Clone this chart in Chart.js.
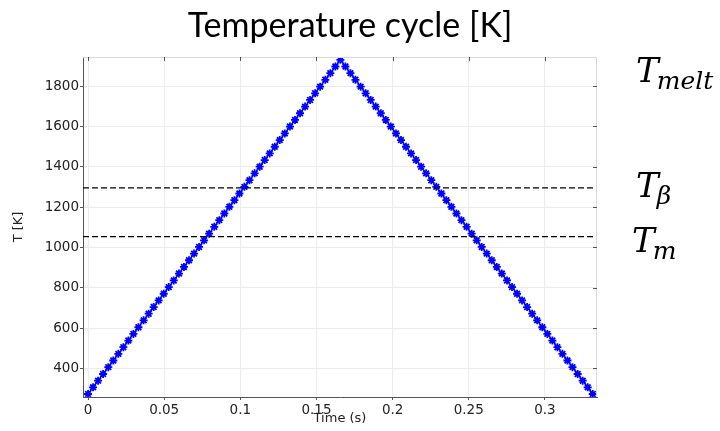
<!DOCTYPE html>
<html lang="en">
<head>
<meta charset="UTF-8" />
<title>Temperature cycle [K]</title>
<script src="https://cdn.jsdelivr.net/npm/chart.js"></script>
<style>
  html, body { margin: 0; padding: 0; background: #fff; }
  #wrap { width: 720px; height: 431px; position: relative; }
</style>
</head>
<body>
<div id="wrap"><canvas id="grafico"></canvas></div>
<script>
// time (s) of each sample
const tiempos = [
  0, 0.0033, 0.0066, 0.0099, 0.0133, 0.0166, 0.0199, 0.0232, 0.0265, 0.0298,
  0.0331, 0.0365, 0.0398, 0.0431, 0.0464, 0.0497, 0.0530, 0.0563, 0.0597, 0.0630,
  0.0663, 0.0696, 0.0729, 0.0762, 0.0795, 0.0829, 0.0862, 0.0895, 0.0928, 0.0961,
  0.0994, 0.1027, 0.1060, 0.1094, 0.1127, 0.1160, 0.1193, 0.1226, 0.1259, 0.1292,
  0.1326, 0.1359, 0.1392, 0.1425, 0.1458, 0.1491, 0.1524, 0.1558, 0.1591, 0.1624,
  0.1657, 0.1690, 0.1723, 0.1756, 0.1790, 0.1823, 0.1856, 0.1889, 0.1922, 0.1955,
  0.1988, 0.2022, 0.2055, 0.2088, 0.2121, 0.2154, 0.2187, 0.2220, 0.2254, 0.2287,
  0.2320, 0.2353, 0.2386, 0.2419, 0.2452, 0.2486, 0.2519, 0.2552, 0.2585, 0.2618,
  0.2651, 0.2684, 0.2717, 0.2751, 0.2784, 0.2817, 0.2850, 0.2883, 0.2916, 0.2949,
  0.2983, 0.3016, 0.3049, 0.3082, 0.3115, 0.3148, 0.3181, 0.3215, 0.3248, 0.3281,
  0.3314
];
// temperature (K) of each sample
const temperaturas = [
  273, 306, 339, 372, 406, 439, 472, 505, 538, 571,
  604, 638, 671, 704, 737, 770, 803, 836, 870, 903,
  936, 969, 1002, 1035, 1068, 1102, 1135, 1168, 1201, 1234,
  1267, 1300, 1333, 1367, 1400, 1433, 1466, 1499, 1532, 1565,
  1599, 1632, 1665, 1698, 1731, 1764, 1797, 1831, 1864, 1897,
  1930,
  1897, 1864, 1831, 1797, 1764, 1731, 1698, 1665, 1632, 1599,
  1565, 1532, 1499, 1466, 1433, 1400, 1367, 1333, 1300, 1267,
  1234, 1201, 1168, 1135, 1102, 1068, 1035, 1002, 969, 936,
  903, 870, 836, 803, 770, 737, 704, 671, 638, 604,
  571, 538, 505, 472, 439, 406, 372, 339, 306, 273
];
const ticksX = [0, 0.05, 0.1, 0.15, 0.2, 0.25, 0.3];
const ticksY = [400, 600, 800, 1000, 1200, 1400, 1600, 1800];
const limitesX = [-0.0033, 0.3342];
const limitesY = [258, 1944];
// reference temperatures (dashed lines)
const tBeta = 1295;
const tM = 1053;

const puntos = tiempos.map((t, i) => ({ x: t, y: temperaturas[i] }));
const lineaH = v => [{ x: limitesX[0], y: v }, { x: limitesX[1], y: v }];

const fuenteTicks = { family: 'DejaVu Sans', size: 13.5 };

// texts drawn around the plot: title, axis titles, T labels, inner ticks
const extras = {
  id: 'extras',
  afterDraw(chart) {
    const ctx = chart.ctx;
    const a = chart.chartArea;
    const sx = chart.scales.x, sy = chart.scales.y;
    ctx.save();
    // frame top/right
    ctx.strokeStyle = '#d8d8d8';
    ctx.lineWidth = 1;
    ctx.beginPath();
    ctx.moveTo(a.left, a.top + 0.5); ctx.lineTo(a.right, a.top + 0.5);
    ctx.moveTo(a.right - 0.5, a.top); ctx.lineTo(a.right - 0.5, a.bottom);
    ctx.stroke();
    // inner ticks on top and right
    ctx.strokeStyle = '#555';
    ctx.beginPath();
    ticksX.forEach(v => {
      const px = Math.round(sx.getPixelForValue(v)) + 0.5;
      ctx.moveTo(px, a.top); ctx.lineTo(px, a.top + 4);
    });
    ticksY.forEach(v => {
      const py = Math.round(sy.getPixelForValue(v)) + 0.5;
      ctx.moveTo(a.right, py); ctx.lineTo(a.right - 4, py);
    });
    ctx.stroke();

    // title
    ctx.fillStyle = '#000';
    ctx.textAlign = 'center';
    ctx.textBaseline = 'alphabetic';
    ctx.font = '34px Lato';
    ctx.fillText('Temperature cycle [K]', 350, 37);

    // axis titles
    ctx.fillStyle = '#222';
    ctx.font = '13px "DejaVu Sans"';
    ctx.textBaseline = 'middle';
    ctx.fillText('Time (s)', (a.left + a.right) / 2, 419);
    ctx.translate(19, (a.top + a.bottom) / 2);
    ctx.rotate(-Math.PI / 2);
    ctx.fillText('T [K]', 0, 0);
    ctx.restore();

    // T labels on the right
    ctx.save();
    ctx.fillStyle = '#000';
    ctx.textAlign = 'left';
    ctx.textBaseline = 'alphabetic';
    const etiqueta = (x, y, sub) => {
      ctx.font = 'italic 34px "DejaVu Serif"';
      ctx.fillText('T', x, y);
      const w = ctx.measureText('T').width;
      ctx.font = 'italic 25px "DejaVu Serif"';
      ctx.fillText(sub, x + w - 2, y + 7);
    };
    etiqueta(636, 82, 'melt');
    etiqueta(636, 197, 'β');
    etiqueta(632, 252, 'm');
    ctx.restore();
  }
};

new Chart(document.getElementById('grafico'), {
  type: 'line',
  data: {
    datasets: [
      {
        data: puntos,
        borderColor: '#0000ff',
        backgroundColor: '#0000ff',
        borderWidth: 1.5,
        pointStyle: 'star',
        pointRadius: 4,
        pointBorderWidth: 1.8,
        pointBorderColor: '#0000ff',
        tension: 0,
        order: 2
      },
      {
        data: lineaH(tBeta),
        borderColor: '#000',
        borderWidth: 1.2,
        borderDash: [6, 3],
        pointRadius: 0,
        order: 0
      },
      {
        data: lineaH(tM),
        borderColor: '#000',
        borderWidth: 1.2,
        borderDash: [6, 3],
        pointRadius: 0,
        order: 0
      }
    ]
  },
  options: {
    responsive: true,
    maintainAspectRatio: false,
    animation: false,
    layout: { padding: { left: 0, top: 57, right: 123, bottom: 0 } },
    plugins: {
      legend: { display: false },
      title: { display: false },
      tooltip: { enabled: false }
    },
    scales: {
      x: {
        type: 'linear',
        min: limitesX[0],
        max: limitesX[1],
        afterBuildTicks: s => { s.ticks = ticksX.map(v => ({ value: v })); },
        afterFit: s => { s.height = 34; },
        ticks: {
          font: fuenteTicks,
          color: '#222',
          padding: 2,
          maxRotation: 0,
          callback: v => String(+v.toFixed(2))
        },
        grid: { color: '#ececec', tickLength: 3, tickColor: '#555' },
        border: { color: '#555', width: 1 }
      },
      y: {
        type: 'linear',
        min: limitesY[0],
        max: limitesY[1],
        afterBuildTicks: s => { s.ticks = ticksY.map(v => ({ value: v })); },
        afterFit: s => { s.width = 83; },
        ticks: { font: fuenteTicks, color: '#222', padding: 1, callback: v => String(v) },
        grid: { color: '#ececec', tickLength: 3, tickColor: '#555' },
        border: { color: '#555', width: 1 }
      }
    }
  },
  plugins: [extras]
});
</script>
</body>
</html>
